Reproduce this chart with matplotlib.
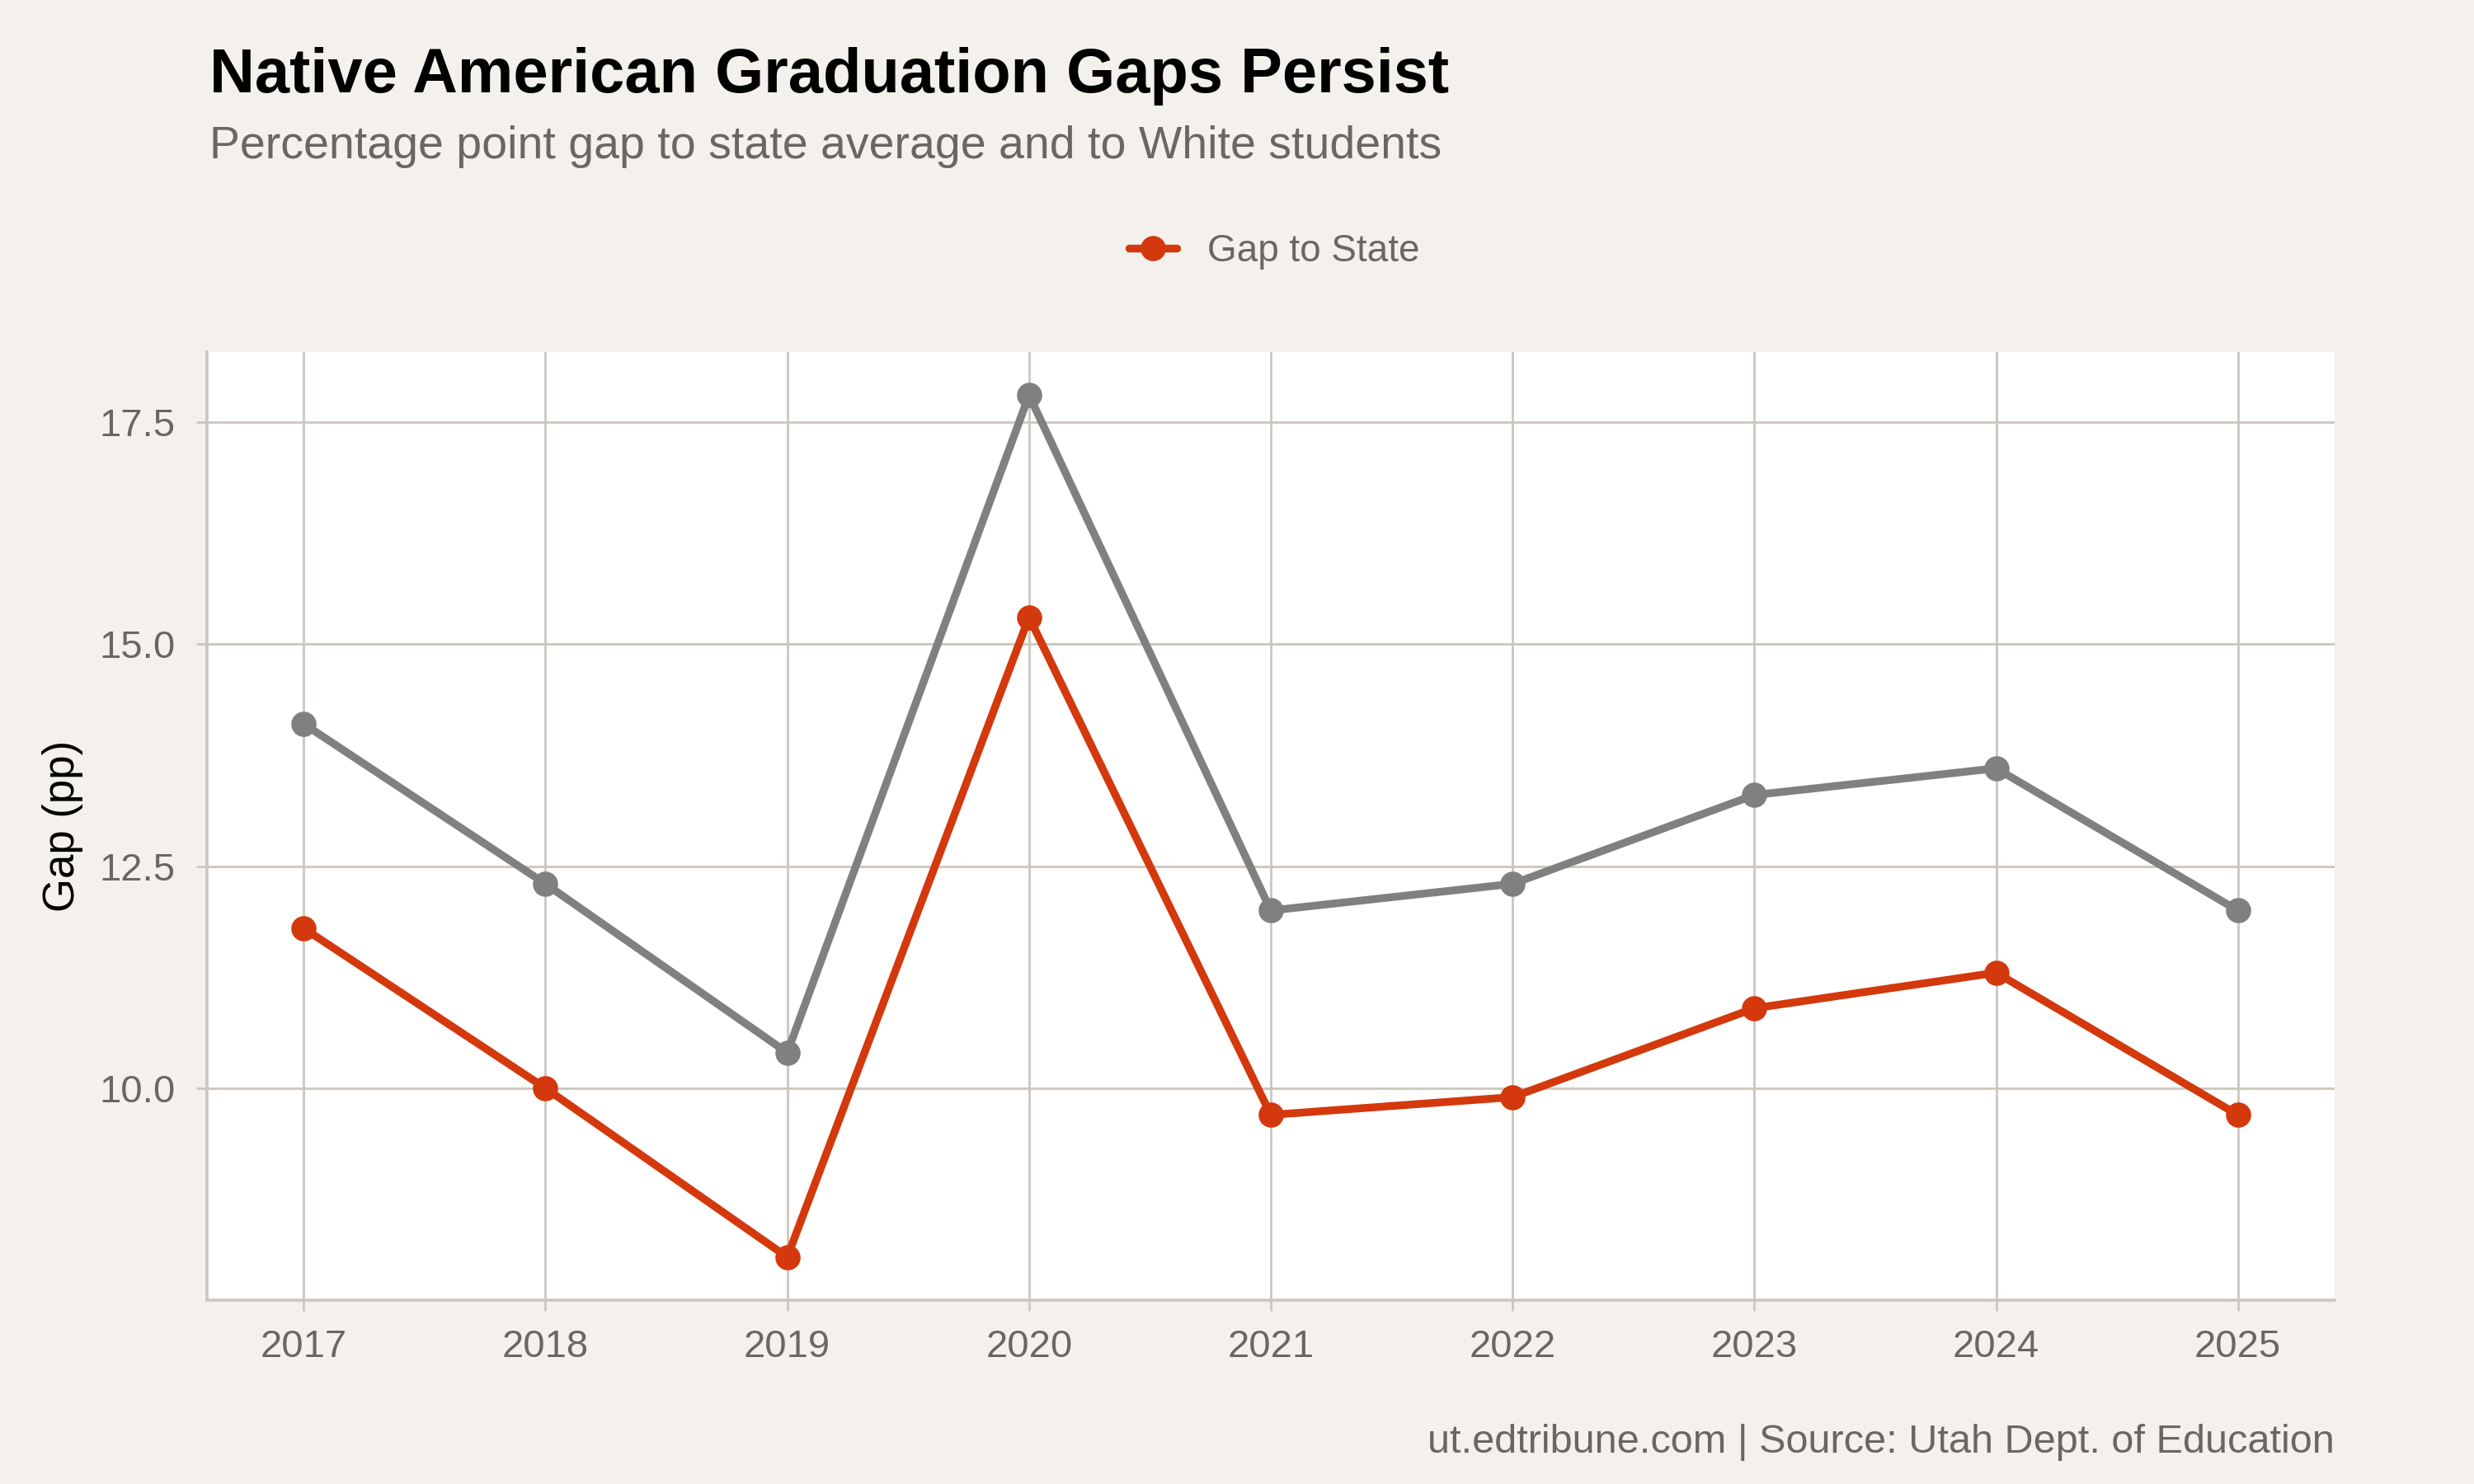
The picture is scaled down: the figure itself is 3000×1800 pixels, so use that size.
import matplotlib
matplotlib.use("Agg")
import matplotlib.pyplot as plt

YEARS = [2017, 2018, 2019, 2020, 2021, 2022, 2023, 2024, 2025]
GAP_TO_STATE = [11.8, 10.0, 8.1, 15.3, 9.7, 9.9, 10.9, 11.3, 9.7]
GAP_TO_WHITE = [14.1, 12.3, 10.4, 17.8, 12.0, 12.3, 13.3, 13.6, 12.0]
Y_TICKS = [10.0, 12.5, 15.0, 17.5]

BG = "#F4F1EC"
GRID = "#CCC6BD"
TEXT_GRAY = "#6B6661"
RED = "#D4380D"
GRAY = "#808080"

plt.rcParams["font.family"] = ["Liberation Sans", "DejaVu Sans"]


def main():
    fig = plt.figure(figsize=(15, 9), dpi=200, facecolor=BG)
    ax = fig.add_axes([251 / 3000, 1 - 1577 / 1800, 2580 / 3000, 1150 / 1800])
    ax.set_facecolor("white")

    ax.plot(YEARS, GAP_TO_WHITE, color=GRAY, lw=3.4, marker="o", ms=10,
            solid_capstyle="round", zorder=3)
    ax.plot(YEARS, GAP_TO_STATE, color=RED, lw=3.4, marker="o", ms=10,
            solid_capstyle="round", zorder=3, label="Gap to State")

    ax.set_xlim(2016.6, 2025.4)
    ax.set_ylim(7.615, 18.285)
    ax.set_xticks(YEARS)
    ax.set_xticklabels([str(y) for y in YEARS])
    ax.set_yticks(Y_TICKS)
    ax.set_yticklabels([f"{t:.1f}" for t in Y_TICKS])

    ax.grid(True, color=GRID, lw=1.0, zorder=0)
    ax.set_axisbelow(True)
    for side in ["top", "right"]:
        ax.spines[side].set_visible(False)
    for side in ["left", "bottom"]:
        ax.spines[side].set_color(GRID)
        ax.spines[side].set_linewidth(1.3)
    ax.tick_params(colors=GRID, length=4.7, width=1.0, labelcolor=TEXT_GRAY,
                   labelsize=17)
    ax.tick_params(axis="x", pad=8)
    ax.tick_params(axis="y", pad=9)

    ax.set_ylabel("Gap (pp)", fontsize=19, color="black", labelpad=7)

    fig.text(254 / 3000, 1 - 112 / 1800, "Native American Graduation Gaps Persist",
             fontsize=27.3, fontweight="bold", color="black", va="baseline", ha="left")
    fig.text(254 / 3000, 1 - 192 / 1800,
             "Percentage point gap to state average and to White students",
             fontsize=20, color=TEXT_GRAY, va="baseline", ha="left")
    fig.text(2831 / 3000, 1 - 1762 / 1800,
             "ut.edtribune.com | Source: Utah Dept. of Education",
             fontsize=17.5, color=TEXT_GRAY, va="baseline", ha="right")

    fig.legend(loc="center", bbox_to_anchor=(1545 / 3000, 1 - 305 / 1800),
               frameon=False, fontsize=16.5, labelcolor=TEXT_GRAY,
               handlelength=1.27, handletextpad=0.8)

    fig.savefig("out.png", dpi=200, facecolor=BG)


if __name__ == "__main__":
    main()
